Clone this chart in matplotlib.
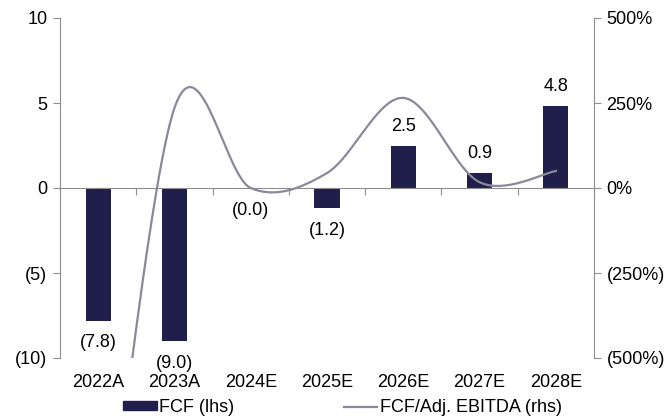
import numpy as np
import matplotlib.pyplot as plt
import matplotlib.transforms as mtransforms
from matplotlib.patches import Patch
from matplotlib.lines import Line2D
from matplotlib.ticker import FuncFormatter

plt.rcParams['font.family'] = ['Liberation Sans', 'DejaVu Sans']

years = ['2022A', '2023A', '2024E', '2025E', '2026E', '2027E', '2028E']
fcf = [-7.8, -9.0, -0.03, -1.2, 2.5, 0.9, 4.8]
fcf_ebitda = [-1300, 235, 0, 44, 265, 17, 50]   # percent

bar_col = '#201f4c'
line_col = '#8a889a'
axis_col = '#8e8e8e'
fs = 13


def smooth(xs, ys, n=60):
    # Bezier smoothing through every point (spreadsheet style)
    pts = np.column_stack([xs, ys]).astype(float)
    out = []
    for i in range(len(pts) - 1):
        p0 = pts[max(i - 1, 0)]
        p1 = pts[i]
        p2 = pts[i + 1]
        p3 = pts[min(i + 2, len(pts) - 1)]
        c1 = p1 + (p2 - p0) / 6
        c2 = p2 - (p3 - p1) / 6
        t = np.linspace(0, 1, n)[:, None]
        seg = ((1 - t) ** 3 * p1 + 3 * (1 - t) ** 2 * t * c1
               + 3 * (1 - t) * t ** 2 * c2 + t ** 3 * p2)
        out.append(seg if i == 0 else seg[1:])
    out = np.vstack(out)
    return out[:, 0], out[:, 1]


def paren(v, pct=False):
    s = f'{abs(v):.0f}%' if pct else f'{abs(v):.0f}'
    return f'({s})' if v < 0 else s


fig = plt.figure(figsize=(6.66, 4.17), dpi=100)
ax = fig.add_axes([60 / 666, 1 - 358 / 417, 534 / 666, 340 / 417])
x = np.arange(len(years))

ax.bar(x, fcf, width=0.33, color=bar_col, zorder=2)
for xi, v in zip(x, fcf):
    lbl = f'({abs(v):.1f})' if v < 0 else f'{v:.1f}'
    off = 14 if v >= 0 else -16
    ax.annotate(lbl, (xi, v), xytext=(0, off), textcoords='offset points',
                ha='center', va='center', fontsize=fs, annotation_clip=False)

ax.set_xlim(-0.5, len(years) - 0.5)
ax.set_ylim(-10, 10)
ax.set_yticks([-10, -5, 0, 5, 10])
ax.yaxis.set_major_formatter(FuncFormatter(lambda v, p: paren(v)))

# category axis sits on the zero line, labels along the bottom
ax.spines['top'].set_visible(False)
ax.spines['bottom'].set_position(('data', 0))
ax.spines['bottom'].set_color(axis_col)
ax.spines['left'].set_color(axis_col)
ax.spines['right'].set_visible(False)
ax.set_xticks(np.arange(len(years) + 1) - 0.5)
ax.set_xticklabels([])
ax.tick_params(axis='x', length=5, color=axis_col, direction='out')
ax.tick_params(axis='y', length=5, color=axis_col, labelsize=fs, pad=4)
trans = mtransforms.blended_transform_factory(ax.transData, ax.transAxes)
for xi, yr in zip(x, years):
    ax.text(xi, -0.072, yr, transform=trans, ha='center', va='center', fontsize=fs)

ax2 = ax.twinx()
lx, ly = smooth(x, fcf_ebitda)
ax2.plot(lx, ly, color=line_col, lw=1.6, zorder=3)
ax2.set_ylim(-500, 500)
ax2.set_yticks([-500, -250, 0, 250, 500])
ax2.yaxis.set_major_formatter(FuncFormatter(lambda v, p: paren(v, pct=True)))
for s in ['top', 'bottom', 'left']:
    ax2.spines[s].set_visible(False)
ax2.spines['right'].set_color(axis_col)
ax2.tick_params(axis='y', length=5, color=axis_col, labelsize=fs, pad=4)

handles = [Patch(color=bar_col, label='FCF (lhs)'),
           Line2D([], [], color=line_col, lw=1.6, label='FCF/Adj. EBITDA (rhs)')]
fig.legend(handles=handles, loc='center', bbox_to_anchor=(0.514, 0.022), ncol=2,
           frameon=False, fontsize=fs, handlelength=1.85, handleheight=0.4,
           handletextpad=0.12, columnspacing=6.1, borderpad=0)

fig.savefig('out.png', dpi=100)
